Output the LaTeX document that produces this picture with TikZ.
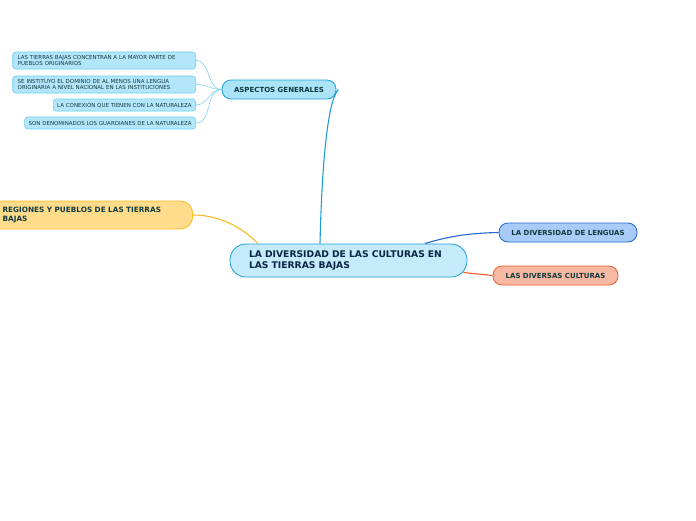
\documentclass[tikz,border=0pt]{standalone}
\usepackage{fontspec}
\setmainfont{DejaVu Sans}

\definecolor{centerfill}{HTML}{C5EBFB}
\definecolor{centerline}{HTML}{1E9CD7}
\definecolor{aspfill}{HTML}{ABE3F9}
\definecolor{aspline}{HTML}{1AA3DC}
\definecolor{leaffill}{HTML}{B3E6FA}
\definecolor{leafline}{HTML}{6CCDF2}
\definecolor{regfill}{HTML}{FFDC8C}
\definecolor{regline}{HTML}{F7BC22}
\definecolor{lenfill}{HTML}{A8CCF7}
\definecolor{lenline}{HTML}{2068D2}
\definecolor{culfill}{HTML}{F8B9A3}
\definecolor{culline}{HTML}{EE5B2C}
\definecolor{inktext}{HTML}{123A3E}
\definecolor{inkcenter}{HTML}{0B2545}

\begin{document}
\begin{tikzpicture}[x=1pt, y=-1pt,
    topic/.style={draw, line width=0.8pt, rounded corners=9pt, minimum height=19pt,
        text=inktext, font=\fontsize{7}{8.5}\selectfont\bfseries, inner sep=0pt},
    leaf/.style={draw=leafline, fill=leaffill, line width=0.6pt, rounded corners=3pt,
        anchor=east, text=inktext, font=\fontsize{5.5}{6.2}\selectfont, align=left,
        inner xsep=5pt, inner ysep=0pt},
    link/.style={line width=1.1pt}]
        \useasboundingbox (0,0) rectangle (696,520);

        % Central topic
        \node[draw=centerline, fill=centerfill, line width=0.8pt, rounded corners=16pt,
            minimum height=33pt, text width=199pt, inner xsep=19pt, align=left,
            text=inkcenter, font=\fontsize{9.2}{11}\selectfont\bfseries]
            (diversidad) at (348.5,260.5) {LA DIVERSIDAD DE LAS CULTURAS EN\\LAS TIERRAS BAJAS};

        % Main topics
        \node[topic, draw=aspline, fill=aspfill, minimum width=114pt] (aspectos) at (279,89.5) {ASPECTOS GENERALES};
        \node[topic, draw=regline, fill=regfill, minimum height=28pt, rounded corners=12pt,
            font=\fontsize{7.3}{8.5}\selectfont\bfseries,
            text width=175pt, inner xsep=15pt, align=left, anchor=east] (regiones) at (193,215)
            {REGIONES Y PUEBLOS DE LAS TIERRAS BAJAS};
        \node[topic, draw=lenline, fill=lenfill, minimum width=138pt] (lenguas) at (568,232.5) {LA DIVERSIDAD DE LENGUAS};
        \node[topic, draw=culline, fill=culfill, minimum width=125pt] (culturas) at (555.5,275.5) {LAS DIVERSAS CULTURAS};

        % Subtopics of aspectos generales
        \node[leaf, minimum height=17pt, text width=173pt] (tierras) at (196,60.5)
            {LAS TIERRAS BAJAS CONCENTRAN A LA MAYOR PARTE DE\\PUEBLOS ORIGINARIOS};
        \node[leaf, minimum height=17pt, text width=173pt] (lengua) at (196,84.5)
            {SE INSTITUYO EL DOMINIO DE AL MENOS UNA LENGUA\\ORIGINARIA A NIVEL NACIONAL EN LAS INSTITUCIONES};
        \node[leaf, minimum height=12pt, inner xsep=4pt] (conexion) at (196,105)
            {LA CONEXIÓN QUE TIENEN CON LA NATURALEZA};
        \node[leaf, minimum height=12pt, inner xsep=4pt] (guardianes) at (196,123)
            {SON DENOMINADOS LOS GUARDIANES DE LA NATURALEZA};

        % Connectors
        \draw[link, centerline] ([xshift=-28.5pt]diversidad.north) .. controls (322,160) and (328,100) .. ([xshift=2pt]aspectos.east);
        \draw[link, regline] (regiones.east) .. controls (222,215) and (245,230) .. ([xshift=-90.5pt]diversidad.north);
        \draw[link, lenline] ([xshift=76.5pt]diversidad.north) .. controls (452,235) and (475,233) .. (lenguas.west);
        \draw[link, culline] ([xshift=-4pt,yshift=-12pt]diversidad.east) -- (culturas.west);
        \foreach \leafname in {tierras,lengua,conexion,guardianes}
            \draw[leafline, line width=0.5pt] (aspectos.west) to[out=180, in=0] (\leafname.east);
    \end{tikzpicture}
\end{document}
